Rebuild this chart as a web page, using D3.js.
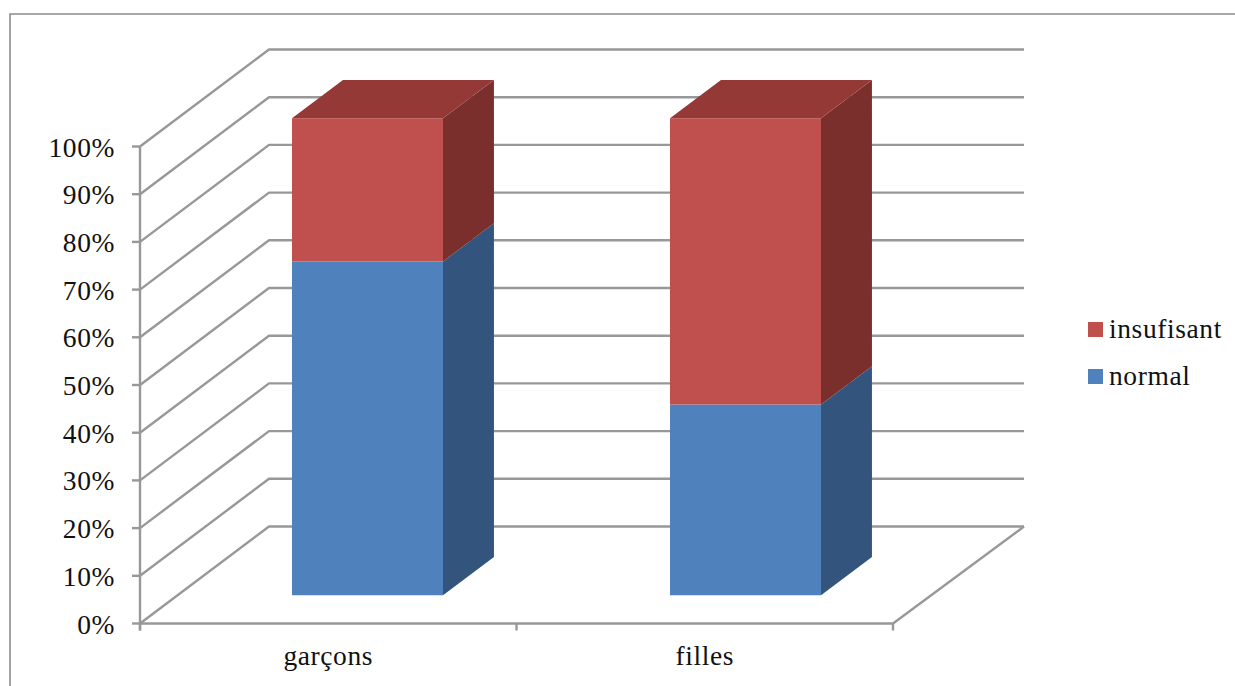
<!DOCTYPE html>
<html>
<head>
<meta charset="utf-8">
<script src="https://cdnjs.cloudflare.com/ajax/libs/d3/7.8.5/d3.min.js"></script>
<style>
html,body{margin:0;padding:0;background:#fff;overflow:hidden}
text{font-family:"Liberation Serif",serif;fill:#111}
</style>
</head>
<body>
<svg id="chart" width="1235" height="686"></svg>
<script>
const categories = ["garçons", "filles"];
const seriesNames = ["normal", "insufisant"];
const normalValues = [70, 40];
const insufisantValues = [30, 60];
const tickValues = [0, 10, 20, 30, 40, 50, 60, 70, 80, 90, 100];

const colors = {
  normal: {front: "#4F81BD", side: "#33547C", top: "#3F6897"},
  insufisant: {front: "#C0504D", side: "#7A2F2C", top: "#953936"}
};
const gridColor = "#989898";
const fontSize = 27.5;
const letterSpacing = 0.6;

const svg = d3.select("#chart");

// Front-plane scales, plus an oblique projection for the depth axis.
const y = d3.scaleLinear().domain([0, 100]).range([623.5, 146.5]);
const xAxisBand = d3.scaleBand().domain(categories).range([140, 893]);
const barCenter = d3.scalePoint().domain(categories).range([367.5, 745.5]);
const barWidth = 151;
const depthX = d3.scaleLinear().domain([0, 1]).range([0, 129]);
const depthY = d3.scaleLinear().domain([0, 1]).range([0, -97]);
const barFrontDepth = 0.29;
const barDepth = 0.395;
const backWallRight = 1024;

const project = (px, value, depth) => [px + depthX(depth), y(value) + depthY(depth)];
const pathOf = pts => "M" + pts.map(p => p.join(",")).join("L") + "Z";
const lineOf = pts => "M" + pts.map(p => p.join(",")).join("L");

// Outer frame: only the top and left edges are visible.
svg.append("path")
  .attr("d", "M10,686V14H1235")
  .attr("fill", "none").attr("stroke", "#8c8c8c").attr("stroke-width", 1.6);

// Left wall and back wall gridlines.
const x0 = xAxisBand.range()[0], x1 = xAxisBand.range()[1];
const gridG = svg.append("g").attr("fill", "none").attr("stroke", gridColor)
  .attr("stroke-width", 2.4).attr("stroke-linejoin", "round");
gridG.selectAll("path.wall").data(tickValues).join("path")
  .attr("class", "wall")
  .attr("d", v => {
    const a = project(x0, v, 0), b = project(x0, v, 1);
    return lineOf([a, b, [backWallRight, b[1]]]);
  });

// Floor edge running from the back wall to the front right corner.
gridG.append("path").attr("d", lineOf([[backWallRight, project(x0, 0, 1)[1]], project(x1, 0, 0), project(x0, 0, 0)]));

// Value axis with its ticks.
gridG.append("path").attr("d", `M${x0},${y(100)}V${y(0) + 7}`);
gridG.selectAll("path.ytick").data(tickValues).join("path")
  .attr("class", "ytick")
  .attr("d", v => `M${x0 - 8},${y(v)}H${x0}`);

// Category axis ticks sit on band edges.
const bandEdges = [...categories.map(c => xAxisBand(c)), x1];
gridG.selectAll("path.xtick").data(bandEdges).join("path")
  .attr("class", "xtick")
  .attr("d", e => `M${e},${y(0)}V${y(0) + 7}`);

// Stacked 3D columns.
const stacked = d3.stack().keys(seriesNames)(categories.map((c, i) => ({
  category: c, normal: normalValues[i], insufisant: insufisantValues[i]
})));

stacked.forEach(layer => {
  const col = colors[layer.key];
  const g = svg.append("g").attr("class", "layer-" + layer.key);
  layer.forEach(seg => {
    const cx = barCenter(seg.data.category);
    const l = cx - barWidth / 2 - depthX(barFrontDepth), r = l + barWidth;
    const d1 = barFrontDepth, d2 = barFrontDepth + barDepth;
    const [v0, v1] = seg;
    // Side face
    g.append("path").attr("fill", col.side)
      .attr("d", pathOf([project(r, v0, d1), project(r, v0, d2), project(r, v1, d2), project(r, v1, d1)]));
    // Front face
    g.append("path").attr("fill", col.front)
      .attr("d", pathOf([project(l, v0, d1), project(r, v0, d1), project(r, v1, d1), project(l, v1, d1)]));
    // Top face only shows on the uppermost segment
    if (v1 === 100) {
      g.append("path").attr("fill", col.top)
        .attr("d", pathOf([project(l, v1, d1), project(r, v1, d1), project(r, v1, d2), project(l, v1, d2)]));
    }
  });
});

// Value labels.
svg.append("g").selectAll("text").data(tickValues).join("text")
  .attr("x", 115).attr("y", v => y(v) + 10)
  .attr("text-anchor", "end").attr("font-size", fontSize).attr("letter-spacing", letterSpacing)
  .text(v => v + "%");

// Category labels.
svg.append("g").selectAll("text").data(categories).join("text")
  .attr("x", c => xAxisBand(c) + xAxisBand.bandwidth() / 2).attr("y", 665)
  .attr("text-anchor", "middle").attr("font-size", fontSize).attr("letter-spacing", letterSpacing)
  .text(c => c);

// Legend, listed top to bottom in reverse stacking order.
const legendOrder = seriesNames.slice().reverse();
const legendY = d3.scalePoint().domain(legendOrder).range([322, 369]);
const legend = svg.append("g");
legend.selectAll("rect").data(legendOrder).join("rect")
  .attr("x", 1088).attr("y", d => legendY(d)).attr("width", 15).attr("height", 15)
  .attr("fill", d => colors[d].front);
legend.selectAll("text").data(legendOrder).join("text")
  .attr("x", 1109).attr("y", d => legendY(d) + 16)
  .attr("font-size", fontSize).attr("letter-spacing", letterSpacing)
  .text(d => d);
</script>
</body>
</html>
